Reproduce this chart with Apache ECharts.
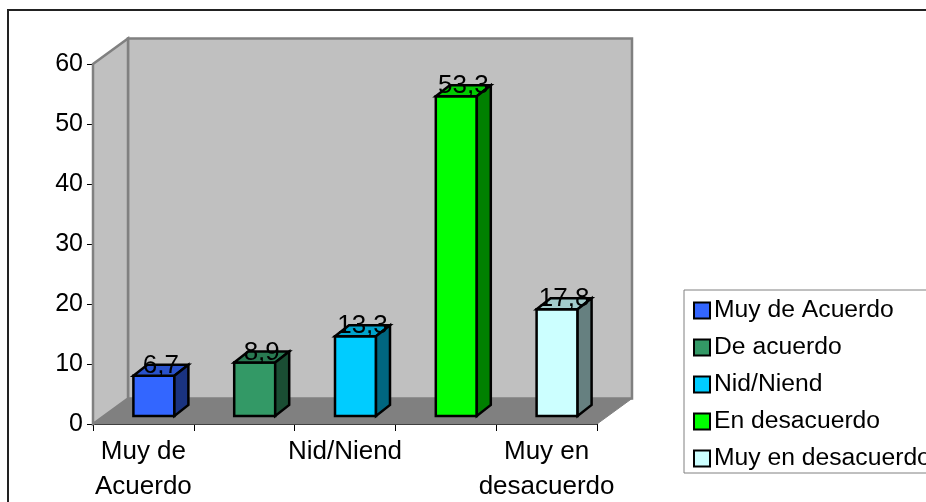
<!DOCTYPE html>
<html>

<head>
	<meta charset="UTF-8" />
	<title>Grafico de barras</title>
	<style>
		html, body { margin: 0; padding: 0; background: #fff; overflow: hidden; }
		#chart { width: 926px; height: 502px; }
	</style>
	<script type="text/javascript" src="https://cdn.jsdelivr.net/npm/echarts@6/dist/echarts.min.js"></script>
</head>

<body>
	<div id="chart"></div>

	<script>
		var categories = ["Muy de\nAcuerdo", "De acuerdo", "Nid/Niend", "En desacuerdo", "Muy en\ndesacuerdo"];
		var legendNames = ["Muy de Acuerdo", "De acuerdo", "Nid/Niend", "En desacuerdo", "Muy en desacuerdo"];
		var values = [6.7, 8.9, 13.3, 53.3, 17.8];
		var valueLabels = ["6,7", "8,9", "13,3", "53,3", "17,8"];
		var colors = ["#3366ff", "#339966", "#00ccff", "#00ff00", "#ccffff"];

		var FONT = "Liberation Sans";
		// profundidad del "3D"
		var WALL_DX = 35, WALL_DY = 25.5;
		var BAR_W = 41, BAR_DX = 14, BAR_DY = 11;
		var BAR_OFFSET = 10.5, BAR_LIFT = 8;

		function shade(hex, k) {
			var n = parseInt(hex.slice(1), 16);
			var r = Math.round((n >> 16 & 255) * k);
			var g = Math.round((n >> 8 & 255) * k);
			var b = Math.round((n & 255) * k);
			return "rgb(" + r + "," + g + "," + b + ")";
		}

		function poly(points, fill, stroke, width) {
			return {
				type: "polygon",
				shape: { points: points },
				style: { fill: fill, stroke: stroke, lineWidth: width, lineJoin: "miter" }
			};
		}

		// paredes y piso
		function renderWalls(params) {
			var c = params.coordSys;
			var l = c.x, r = c.x + c.width, t = c.y, b = c.y + c.height;
			var dx = WALL_DX, dy = WALL_DY;
			return {
				type: "group",
				children: [
					poly([[l + dx, t - dy], [r + dx, t - dy], [r + dx, b - dy], [l + dx, b - dy]], "#c0c0c0", "#808080", 2.5),
					poly([[l, t], [l + dx, t - dy], [l + dx, b - dy], [l, b]], "#c0c0c0", "#808080", 2.5),
					poly([[l, b], [l + dx, b - dy], [r + dx, b - dy], [r, b]], "#808080", "#808080", 1)
				]
			};
		}

		function renderBar(params, api) {
			var i = params.seriesIndex - 1;
			var base = api.coord([api.value(0), 0]);
			var top = api.coord([api.value(0), api.value(1)]);
			var cx = base[0] + BAR_OFFSET;
			var x0 = cx - BAR_W / 2, x1 = cx + BAR_W / 2;
			var y0 = base[1] - BAR_LIFT, y1 = top[1] - BAR_LIFT;
			var dx = BAR_DX, dy = BAR_DY;
			var color = colors[i];
			return {
				type: "group",
				children: [
					poly([[x0, y1], [x1, y1], [x1, y0], [x0, y0]], color, "#000", 2.5),
					poly([[x0, y1], [x0 + dx, y1 - dy], [x1 + dx, y1 - dy], [x1, y1]], shade(color, 0.8), "#000", 2.5),
					poly([[x1, y1], [x1 + dx, y1 - dy], [x1 + dx, y0 - dy], [x1, y0]], shade(color, 0.5), "#000", 2.5),
					{
						type: "text",
						x: cx + dx / 2,
						y: y1 + 3,
						style: {
							text: valueLabels[i],
							font: "26px '" + FONT + "'",
							fill: "#000",
							align: "center",
							verticalAlign: "bottom"
						}
					}
				]
			};
		}

		var series = [{
			type: "custom",
			name: "walls",
			silent: true,
			renderItem: renderWalls,
			data: [[0, 0]],
			z: 1
		}];
		legendNames.forEach(function (name, i) {
			series.push({
				type: "custom",
				name: name,
				renderItem: renderBar,
				itemStyle: { color: colors[i] },
				data: [[i, values[i]]],
				z: 2 + i
			});
		});

		var myChart = echarts.init(document.getElementById("chart"), null, { renderer: "canvas" });

		myChart.setOption({
			animation: false,
			textStyle: { fontFamily: FONT },
			graphic: [{
				type: "rect",
				shape: { x: 8, y: 10, width: 1000, height: 600 },
				style: { fill: "#fff", stroke: "#222", lineWidth: 2 },
				z: -10
			}],
			legend: {
				orient: "vertical",
				left: 684,
				top: 290,
				padding: [8, 30, 2, 9],
				itemWidth: 16,
				itemHeight: 16,
				itemGap: 12,
				icon: "rect",
				data: legendNames,
				borderColor: "#808080",
				borderWidth: 1,
				backgroundColor: "#fff",
				selectedMode: false,
				textStyle: { fontFamily: FONT, fontSize: 24.7, color: "#000", padding: [0, 0, 0, -1] },
				itemStyle: { borderColor: "#000", borderWidth: 2 }
			},
			grid: { left: 93, right: 329, top: 64, bottom: 78, outerBoundsMode: "none" },
			xAxis: {
				type: "category",
				data: categories,
				axisLine: { show: true, onZero: false, lineStyle: { color: "#000", width: 2 } },
				axisTick: { show: true, alignWithLabel: false, interval: 0, length: 7, lineStyle: { color: "#000", width: 1 } },
				axisLabel: { interval: 1, margin: 10, color: "#000", fontFamily: FONT, fontSize: 26, lineHeight: 35 },
				splitLine: { show: false }
			},
			yAxis: {
				type: "value",
				min: 0,
				max: 60,
				interval: 10,
				axisLine: { show: true, lineStyle: { color: "#000", width: 1 } },
				axisTick: { show: true, length: 6, lineStyle: { color: "#000", width: 1 } },
				axisLabel: { margin: 10, color: "#000", fontFamily: FONT, fontSize: 25, padding: [3, 0, 0, 0] },
				splitLine: { show: false }
			},
			series: series
		});
	</script>
</body>

</html>
